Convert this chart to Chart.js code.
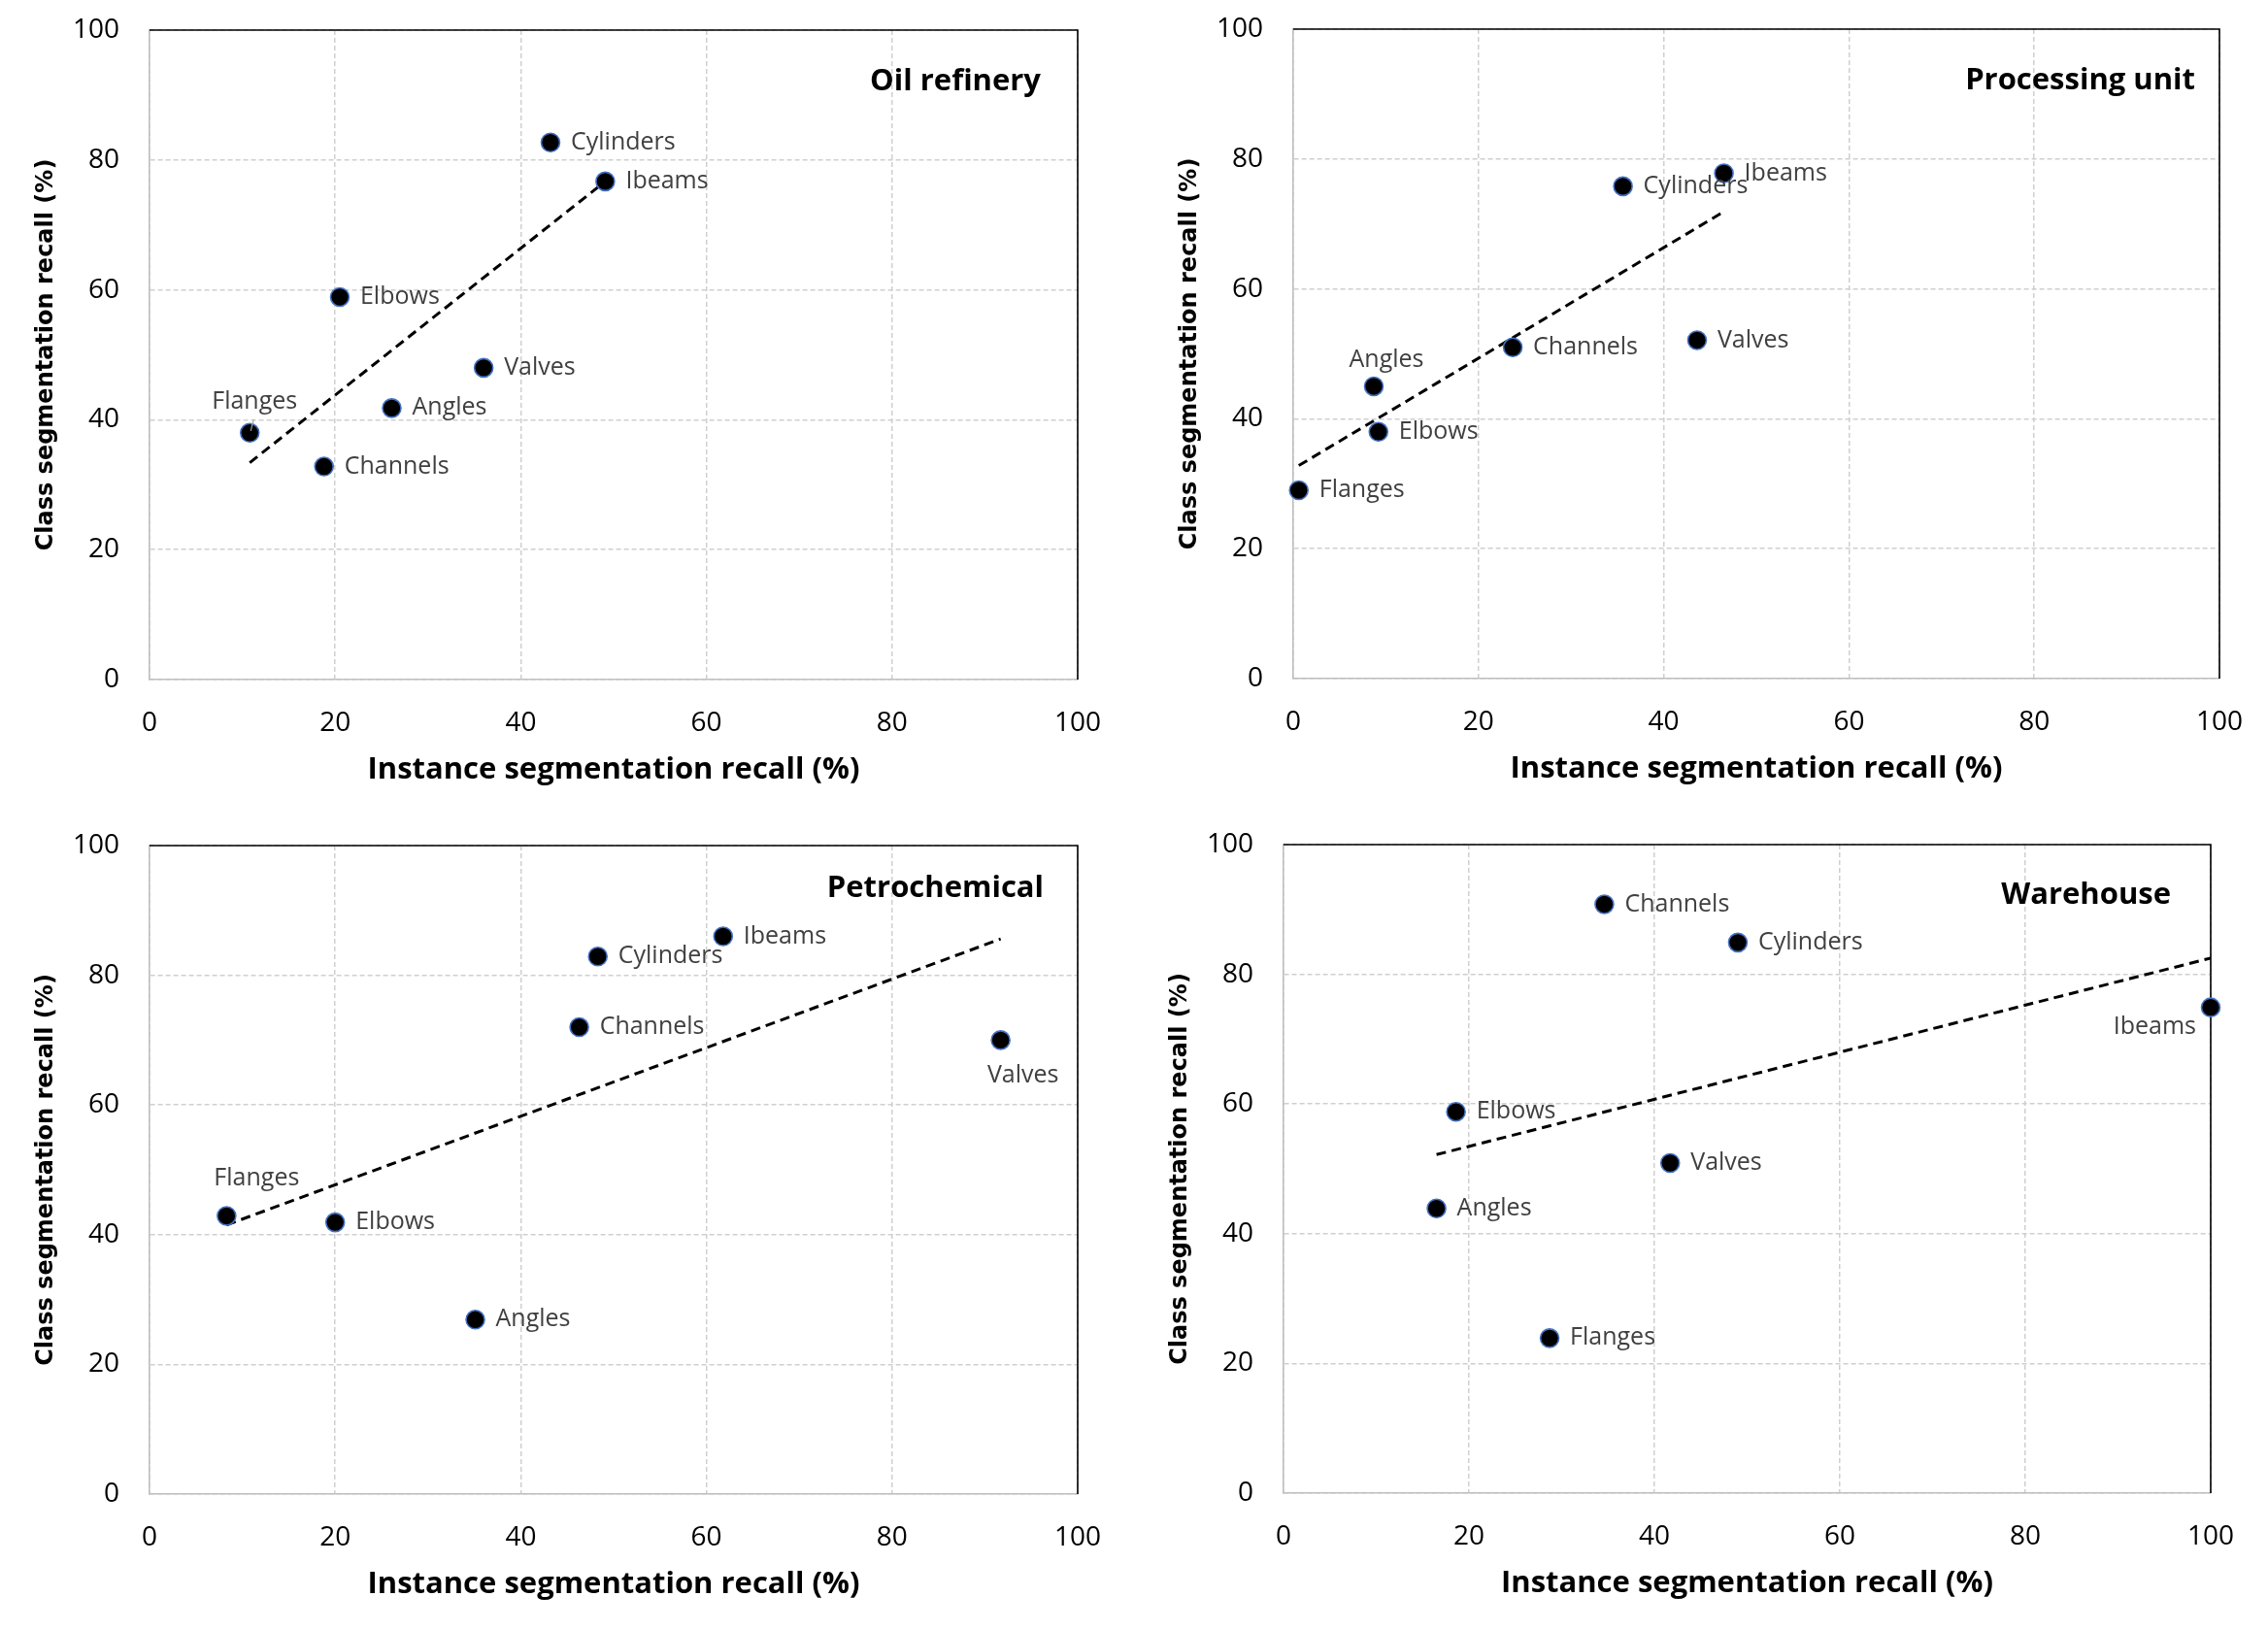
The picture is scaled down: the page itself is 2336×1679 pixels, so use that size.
<!DOCTYPE html>
<html>
<head>
<meta charset="utf-8">
<script src="https://cdn.jsdelivr.net/npm/chart.js@4.4.0/dist/chart.umd.min.js"></script>
<style>
  body { margin: 0; background: #fff; width: 2336px; height: 1679px; overflow: hidden; position: relative; }
  canvas { position: absolute; }
</style>
</head>
<body>
<canvas id="c0" width="1168" height="840" style="left:0;top:0"></canvas>
<canvas id="c1" width="1168" height="840" style="left:1168px;top:0"></canvas>
<canvas id="c2" width="1168" height="840" style="left:0;top:840px"></canvas>
<canvas id="c3" width="1168" height="840" style="left:1168px;top:840px"></canvas>
<script>
// categories (same order in every panel)
const categories = ['Cylinders', 'Ibeams', 'Elbows', 'Valves', 'Angles', 'Flanges', 'Channels'];
const panelTitles = ['Oil refinery', 'Processing unit', 'Petrochemical', 'Warehouse'];
const axisTicks = [0, 20, 40, 60, 80, 100];
const xTitle = 'Instance segmentation recall (%)';
const yTitle = 'Class segmentation recall (%)';

// instance (x) / class (y) recall per category
const oilX = [43.2, 49.1, 20.5, 36.0, 26.1, 10.8, 18.8];
const oilY = [82.7, 76.7, 58.9, 48.0, 41.8, 38.0, 32.8];
const procX = [35.6, 46.5, 9.2, 43.6, 8.7, 0.6, 23.7];
const procY = [75.8, 77.8, 38.0, 52.1, 45.0, 29.0, 51.0];
const petroX = [48.3, 61.8, 20.0, 91.7, 35.1, 8.3, 46.3];
const petroY = [82.9, 86.0, 41.9, 70.0, 26.9, 42.9, 72.0];
const wareX = [49.0, 100, 18.6, 41.7, 16.5, 28.7, 34.6];
const wareY = [84.9, 74.9, 58.8, 50.9, 43.9, 23.9, 90.8];

// trendline ends
const oilTrendX = [10.8, 49.1];
const oilTrendY = [33.4, 76.7];
const procTrendX = [0.6, 46.5];
const procTrendY = [32.8, 71.9];
const petroTrendX = [8.3, 91.7];
const petroTrendY = [41.5, 85.6];
const wareTrendX = [16.5, 100];
const wareTrendY = [52.2, 82.5];

const panels = [
  { x: oilX, y: oilY, tx: oilTrendX, ty: oilTrendY },
  { x: procX, y: procY, tx: procTrendX, ty: procTrendY },
  { x: petroX, y: petroY, tx: petroTrendX, ty: petroTrendY },
  { x: wareX, y: wareY, tx: wareTrendX, ty: wareTrendY },
];

// layout of each canvas (plot box inside the canvas) and title offsets
const boxes = [
  { left: 154, right: 58, top: 31, bottom: 140, titleRight: 38, titleDown: 53 },
  { left: 164, right: 50, top: 30, bottom: 141, titleRight: 25, titleDown: 53 },
  { left: 154, right: 58, top: 31, bottom: 141, titleRight: 35, titleDown: 44 },
  { left: 154, right: 59, top: 30, bottom: 142, titleRight: 41, titleDown: 52 },
];

// label placement that differs from the default (right of the point)
const labelSpots = [
  { Flanges: { dx: 5, dy: -32, align: 'center', leader: true } },
  { Angles: { dx: 13, dy: -27, align: 'center' } },
  { Flanges: { dx: 31, dy: -39, align: 'center' }, Valves: { dx: 23, dy: 36, align: 'center' } },
  { Ibeams: { dx: -15, dy: 20, align: 'right' } },
];

const labelFont = '25px "Open Sans"';
const boldFont = 'bold 31px "Open Sans"';

const decor = {
  id: 'decor',
  beforeDatasetsDraw(chart) {
    const { ctx, chartArea: a } = chart;
    ctx.save();
    ctx.strokeStyle = '#000';
    ctx.lineWidth = 1.6;
    ctx.beginPath();
    ctx.moveTo(a.left, a.top);
    ctx.lineTo(a.right, a.top);
    ctx.lineTo(a.right, a.bottom);
    ctx.stroke();
    ctx.restore();
  },
  afterDatasetsDraw(chart, args, opts) {
    const { ctx, chartArea: a } = chart;
    const idx = opts.idx;
    const meta = chart.getDatasetMeta(1);
    ctx.save();
    ctx.font = labelFont;
    ctx.fillStyle = '#404040';
    ctx.textBaseline = 'middle';
    meta.data.forEach((pt, i) => {
      const name = categories[i];
      const s = labelSpots[idx][name] || { dx: 21, dy: 0, align: 'left' };
      ctx.textAlign = s.align;
      ctx.fillText(name, pt.x + s.dx, pt.y + s.dy);
      if (s.leader) {
        ctx.strokeStyle = '#a6a6a6';
        ctx.lineWidth = 1.2;
        ctx.beginPath();
        ctx.moveTo(pt.x + 4, pt.y - 14);
        ctx.lineTo(pt.x + 1, pt.y - 2);
        ctx.stroke();
      }
    });
    // panel title
    const b = boxes[idx];
    ctx.fillStyle = '#000';
    ctx.font = 'bold 31px "Open Sans"';
    ctx.textAlign = 'right';
    ctx.fillText(panelTitles[idx], a.right - b.titleRight, a.top + b.titleDown);
    // axis titles
    ctx.font = boldFont;
    ctx.textAlign = 'center';
    ctx.fillText(xTitle, (a.left + a.right) / 2, a.bottom + 93);
    ctx.translate(a.left - 106, (a.top + a.bottom) / 2);
    ctx.rotate(-Math.PI / 2);
    ctx.font = 'bold 24px "DejaVu Sans"';
    ctx.fillText(yTitle, 0, 0);
    ctx.restore();
  },
};

function axis(b, horizontal) {
  return {
    type: 'linear',
    min: 0,
    max: 100,
    afterBuildTicks: (scale) => { scale.ticks = axisTicks.map((v) => ({ value: v })); },
    afterFit: (scale) => {
      if (horizontal) scale.height = b.bottom;
      else scale.width = b.left;
      // keep the plot box where the layout puts it
      scale.paddingTop = 0;
      scale.paddingBottom = 0;
      scale.paddingLeft = 0;
      scale.paddingRight = 0;
    },
    ticks: {
      color: '#000',
      padding: horizontal ? 28 : 31,
      font: { family: 'Open Sans', size: 28 },
    },
    grid: { color: '#cfcfcf', lineWidth: 1.5, drawTicks: false },
    border: { color: '#bfbfbf', width: 1.6, dash: [5, 3] },
  };
}

document.addEventListener('DOMContentLoaded', () => {
  panels.forEach((p, idx) => {
    const b = boxes[idx];
    new Chart(document.getElementById('c' + idx), {
      type: 'scatter',
      data: {
        datasets: [
          {
            data: p.tx.map((v, i) => ({ x: v, y: p.ty[i] })),
            showLine: true,
            borderColor: '#000',
            borderWidth: 3,
            borderDash: [10, 6],
            pointRadius: 0,
            order: 2,
          },
          {
            data: p.x.map((v, i) => ({ x: v, y: p.y[i] })),
            backgroundColor: '#000',
            borderColor: '#4472C4',
            borderWidth: 1.6,
            pointRadius: 9.5,
            clip: false,
            order: 1,
          },
        ],
      },
      options: {
        responsive: false,
        animation: false,
        devicePixelRatio: 1,
        layout: { autoPadding: false, padding: { left: 0, right: b.right, top: b.top, bottom: 0 } },
        plugins: {
          legend: { display: false },
          tooltip: { enabled: false },
          decor: { idx },
        },
        scales: {
          x: axis(b, true),
          y: axis(b, false),
        },
      },
      plugins: [decor],
    });
  });
});
</script>
</body>
</html>
